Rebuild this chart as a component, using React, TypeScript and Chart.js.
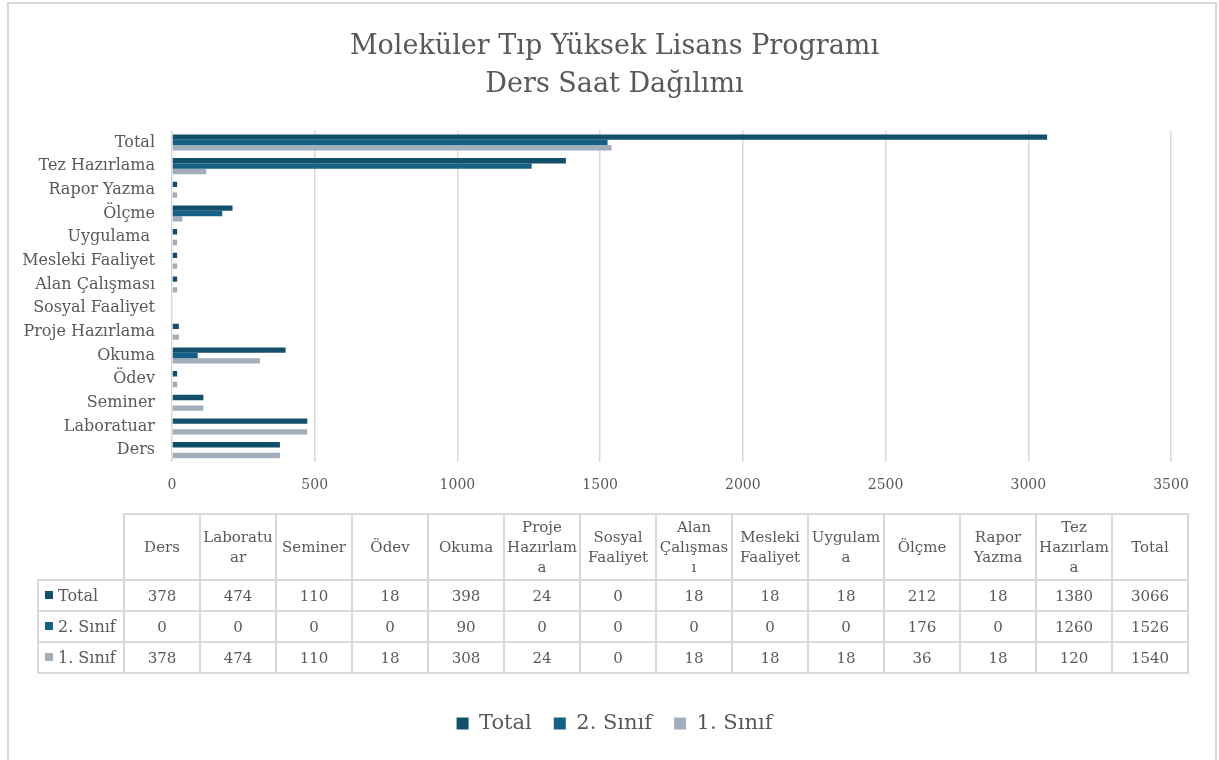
import React, { useEffect, useRef } from "react";
import { Chart, registerables } from "chart.js";

Chart.register(...registerables);

const FONT = "'DejaVu Serif', serif";
const TEXT = "#595959";
const GRID = "#d9d9d9";

const titleLines = ["Moleküler Tıp Yüksek Lisans Programı", "Ders Saat Dağılımı"];
const categories = [
  "Ders",
  "Laboratuar",
  "Seminer",
  "Ödev",
  "Okuma",
  "Proje Hazırlama",
  "Sosyal Faaliyet",
  "Alan Çalışması",
  "Mesleki Faaliyet",
  "Uygulama ",
  "Ölçme",
  "Rapor Yazma",
  "Tez Hazırlama",
  "Total",
];
const totalValues = [378, 474, 110, 18, 398, 24, 0, 18, 18, 18, 212, 18, 1380, 3066];
const sinif2Values = [0, 0, 0, 0, 90, 0, 0, 0, 0, 0, 176, 0, 1260, 1526];
const sinif1Values = [378, 474, 110, 18, 308, 24, 0, 18, 18, 18, 36, 18, 120, 1540];
const seriesNames = ["Total", "2. Sınıf", "1. Sınıf"];
const seriesColors = ["#124f6b", "#165f86", "#a2aebb"];
const seriesValues = [totalValues, sinif2Values, sinif1Values];
const xMin = 0;
const xMax = 3500;
const xStep = 500;

export default function App() {
  const ref = useRef<HTMLCanvasElement>(null);

  useEffect(() => {
    const chart = new Chart(ref.current as HTMLCanvasElement, {
      type: "bar",
      data: {
        labels: categories,
        datasets: seriesNames.map((name, i) => ({
          label: name,
          data: seriesValues[i],
          backgroundColor: seriesColors[i],
          borderWidth: 0,
          categoryPercentage: 0.68,
          barPercentage: 1.0,
        })),
      },
      options: {
        indexAxis: "y",
        responsive: false,
        animation: false,
        layout: { padding: { left: 58, right: 48, top: 0, bottom: 16 } },
        plugins: {
          title: {
            display: true,
            text: titleLines,
            color: TEXT,
            font: { family: FONT, size: 27, weight: "normal", lineHeight: 1.4 },
            padding: { top: 28, bottom: 27 },
          },
          legend: {
            display: true,
            position: "bottom",
            labels: {
              color: TEXT,
              font: { family: FONT, size: 21 },
              boxWidth: 12,
              boxHeight: 12,
              padding: 22,
            },
          },
          tooltip: { enabled: false },
        },
        scales: {
          x: {
            min: xMin,
            max: xMax,
            ticks: {
              stepSize: xStep,
              color: TEXT,
              font: { family: FONT, size: 14 },
              padding: 15,
              callback: (v: any) => String(v),
            },
            grid: { color: GRID, lineWidth: 1.5, drawTicks: false },
            border: { display: false },
            afterFit: (scale: any) => {
              scale.height = 229;
            },
          },
          y: {
            reverse: true,
            ticks: {
              color: TEXT,
              font: { family: FONT, size: 16 },
              padding: 17,
              autoSkip: false,
            },
            grid: { display: false, drawTicks: false },
            border: { display: false },
            afterFit: (scale: any) => {
              scale.width = 114;
              // let long category labels extend past the scale box (no clipping)
              scale._computeLabelArea = () => undefined;
            },
          },
        },
      },
    });
    return () => chart.destroy();
  }, []);

  const cellBorder = `2px solid ${GRID}`;
  const cellBase: React.CSSProperties = {
    border: cellBorder,
    textAlign: "center",
    verticalAlign: "middle",
    padding: "0 1px",
    color: TEXT,
    fontFamily: FONT,
    fontSize: 15,
    lineHeight: "20px",
    overflowWrap: "anywhere",
  };

  return (
    <div
      style={{
        position: "fixed",
        left: 0,
        top: 0,
        width: 1219,
        height: 760,
        background: "#fff",
        overflow: "hidden",
        fontFamily: FONT,
      }}
    >
      <div
        style={{
          position: "absolute",
          left: 7,
          top: 2,
          width: 1206,
          height: 900,
          border: `2px solid ${GRID}`,
        }}
      />
      <canvas
        ref={ref}
        width={1219}
        height={760}
        style={{ position: "absolute", left: 0, top: 0, width: 1219, height: 760 }}
      />
      <table
        style={{
          position: "absolute",
          left: 37,
          top: 513,
          width: 1152,
          borderCollapse: "collapse",
          tableLayout: "fixed",
          background: "transparent",
        }}
      >
        <colgroup>
          <col style={{ width: 86 }} />
          {categories.map((c) => (
            <col key={c} style={{ width: 76 }} />
          ))}
        </colgroup>
        <thead>
          <tr style={{ height: 66 }}>
            <th style={{ ...cellBase, border: "none" }} />
            {categories.map((c) => (
              <th key={c} style={{ ...cellBase, fontWeight: "normal" }}>
                {c.trim()}
              </th>
            ))}
          </tr>
        </thead>
        <tbody>
          {seriesNames.map((name, i) => (
            <tr key={name} style={{ height: 31 }}>
              <td
                style={{
                  ...cellBase,
                  textAlign: "left",
                  paddingLeft: 6,
                  whiteSpace: "nowrap",
                  fontSize: 16,
                }}
              >
                <span
                  style={{
                    display: "inline-block",
                    width: 8,
                    height: 8,
                    background: seriesColors[i],
                    marginRight: 5,
                    verticalAlign: "middle",
                    position: "relative",
                    top: -1,
                  }}
                />
                {name}
              </td>
              {seriesValues[i].map((v, j) => (
                <td key={j} style={cellBase}>
                  {v}
                </td>
              ))}
            </tr>
          ))}
        </tbody>
      </table>
    </div>
  );
}
